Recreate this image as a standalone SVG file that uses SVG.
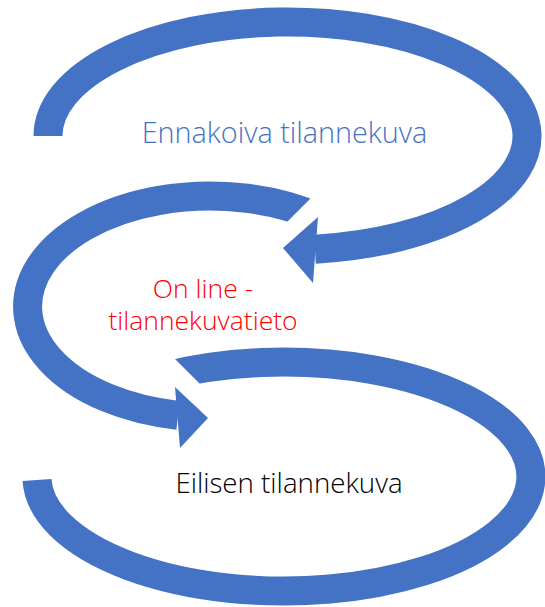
<svg xmlns="http://www.w3.org/2000/svg" width="545" height="607" viewBox="0 0 545 607">
  <style>
    .arc { fill: none; stroke: #4472C4; stroke-width: 29; stroke-linecap: butt; }
    .head { fill: #4472C4; stroke: none; }
    .lbl { font-family: "Open Sans", "Noto Sans", "Liberation Sans", sans-serif; font-weight: 300; text-anchor: middle; }
  </style>
  <defs>
    <clipPath id="clipMid">
      <polygon points="0,0 509,0 249,260 249,607 0,607"/>
    </clipPath>
    <clipPath id="clipBot">
      <polygon points="0,0 545,0 545,607 0,607 0,420 236,420 0,184"/>
    </clipPath>
  </defs>
  <rect width="545" height="607" fill="#ffffff"/>
  <g id="connectors">
    <g id="arrow-top">
      <path class="arc" d="M 48 136 A 239.5 114 0 1 1 315 249.2"/>
      <polygon class="head" points="318,217 283,248 313,283"/>
    </g>
    <g id="arrow-middle">
      <path class="arc" clip-path="url(#clipMid)" d="M 315 216.1 A 182.5 110.5 0 1 0 178 415.3"/>
      <polygon class="head" points="175,387 208,418 180,448"/>
    </g>
    <g id="arrow-bottom">
      <path class="arc" clip-path="url(#clipBot)" d="M 165 376.2 A 247 114.5 0 1 1 37 480"/>
    </g>
  </g>
  <g id="node-ennakoiva">
    <text class="lbl" x="284.5" y="143" font-size="28.8" fill="#4472C4">Ennakoiva tilannekuva</text>
  </g>
  <g id="node-online">
    <text class="lbl" font-size="26.5" fill="#FF0000"><tspan x="203" y="298">On line -</tspan><tspan x="203" y="330">tilannekuvatieto</tspan></text>
  </g>
  <g id="node-eilisen">
    <text class="lbl" x="289" y="493" font-size="27.7" fill="#000000">Eilisen tilannekuva</text>
  </g>
</svg>
